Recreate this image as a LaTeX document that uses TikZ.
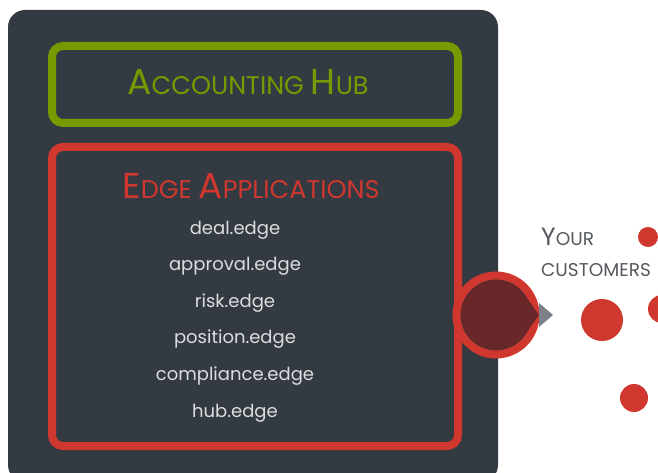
\documentclass[tikz,border=0pt]{standalone}
\usepackage{fontspec}
\setmainfont{Poppins}
\usetikzlibrary{calc}

\definecolor{panelgray}{HTML}{343A42}
\definecolor{hubgreen}{HTML}{789A00}
\definecolor{edgered}{HTML}{D0372E}
\definecolor{teardark}{HTML}{6A2729}
\definecolor{tipgray}{HTML}{7C8189}
\definecolor{itemgray}{HTML}{DCDDDE}
\definecolor{labelgray}{HTML}{55595E}

\newcommand{\capsz}{\fontsize{36}{38}\selectfont}
\newcommand{\scsz}{\fontsize{25.5}{28}\selectfont}
\newcommand{\capsmall}{\fontsize{25}{27}\selectfont}
\newcommand{\scsmall}{\fontsize{18.5}{20}\selectfont}

\tikzset{
	boxframe/.style={draw, line width=8pt, rounded corners=11pt, inner sep=0pt},
	edgeitem/.style={anchor=base, text=itemgray, font=\fontsize{18}{20}\selectfont},
	reddot/.style={circle, fill=edgered, inner sep=0pt},
}

\begin{document}
\begin{tikzpicture}[x=1pt,y=1pt]
				\useasboundingbox (0,0) rectangle (658,472);
				\fill[panelgray, rounded corners=17pt] (8,-10) rectangle (498,462);

				\node[boxframe, draw=hubgreen, minimum width=406, minimum height=77] (hub) at (255,387.5) {};
				\node[anchor=base, text=hubgreen] (hubtitle) at (248,377) {\capsz A\scsz CCOUNTING \capsz H\scsz UB};

				\node[boxframe, draw=edgered, minimum width=406, minimum height=299] (edgebox) at (255,175.5) {};
				\node[anchor=base, text=edgered] (edgetitle) at (251,273) {\capsz E\scsz DGE \capsz A\scsz PPLICATIONS};
				\foreach \app [count=\i] in {deal,approval,risk,position,compliance,hub}{
					\node[edgeitem] (app\i) at (235,{238-36.6*(\i-1)}) {\app.edge};
				}

				% port on the right side of the edge box
				\node[circle, draw=edgered, fill=panelgray, line width=8pt, minimum size=79, inner sep=0pt] (port) at (496,157) {};
				\fill[teardark] ([shift={(35.5:35)}]port.center) arc[start angle=35.5, end angle=324.5, radius=35] -- ([xshift=43pt]port.center) -- cycle;
				\fill[tipgray] ([xshift=43pt,yshift=12pt]port.center) -- ([xshift=57pt]port.center) -- ([xshift=43pt,yshift=-12pt]port.center) -- cycle;

				\node[anchor=base west, text=labelgray, inner sep=0pt] (your) at (541,227) {\capsmall Y\scsmall OUR};
				\node[anchor=base west, text=labelgray, inner sep=0pt] (customers) at (541,196) {\scsmall CUSTOMERS};

				\node[reddot, minimum size=42] (dotA) at (602,152) {};
				\node[reddot, minimum size=28] (dotB) at (662,163) {};
				\node[reddot, minimum size=28] (dotC) at (634,74) {};
				\node[reddot, minimum size=20] (dotD) at (648,235) {};
			\end{tikzpicture}
\end{document}
